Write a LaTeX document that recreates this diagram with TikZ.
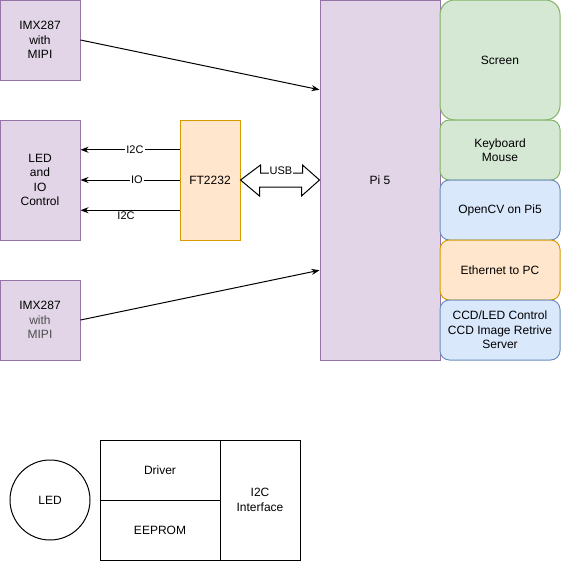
\documentclass[tikz,border=0pt]{standalone}
\usepackage{fontspec}
\setmainfont{Liberation Sans}
\usetikzlibrary{arrows.meta,calc}

\definecolor{purplefill}{HTML}{E1D5E7}
\definecolor{purpleline}{HTML}{9673A6}
\definecolor{orangefill}{HTML}{FFE6CC}
\definecolor{orangeline}{HTML}{D79B00}
\definecolor{greenfill}{HTML}{D5E8D4}
\definecolor{greenline}{HTML}{82B366}
\definecolor{bluefill}{HTML}{DAE8FC}
\definecolor{blueline}{HTML}{6C8EBF}
\definecolor{textgrey}{HTML}{4D4D4D}

\tikzset{
  base/.style={line width=0.75pt, inner sep=0pt, align=center, font=\fontsize{9}{10.8}\selectfont},
  box/.style={base, draw=purpleline, fill=purplefill},
  ftbox/.style={base, draw=orangeline, fill=orangefill},
  greenbox/.style={base, draw=greenline, fill=greenfill, minimum width=90pt, rounded corners=7pt},
  bluebox/.style={base, draw=blueline, fill=bluefill, minimum width=90pt, minimum height=45pt, rounded corners=7pt},
  orangebox/.style={base, draw=orangeline, fill=orangefill, minimum width=90pt, minimum height=45pt, rounded corners=7pt},
  plain/.style={base, draw=black},
  arr/.style={line width=0.75pt, -{Stealth[length=6pt,width=4.5pt]}},
  lbl/.style={fill=white, inner sep=0.8pt, font=\fontsize{8.25}{9}\selectfont}
}

\begin{document}
\begin{tikzpicture}[x=0.75pt, y=-0.75pt]
\useasboundingbox (0,0) rectangle (561,561);

% left side
\node[box, minimum width=60pt, minimum height=60pt] (imxa) at (40,40) {IMX287\\with\\MIPI};
\node[box, minimum width=60pt, minimum height=90pt] (ledio) at (40,180) {LED\\and\\IO\\Control};
\node[box, minimum width=60pt, minimum height=60pt] (imxb) at (40,320) {IMX287\\{\color{textgrey}with}\\{\color{textgrey}MIPI}};
\node[ftbox, minimum width=45pt, minimum height=90pt] (ft) at (210,180) {FT2232};

% Pi and its parts
\node[box, minimum width=90pt, minimum height=270pt] (pi) at (380,180) {Pi 5};
\node[greenbox, minimum height=90pt, rounded corners=11pt] (screen) at (500,60) {Screen};
\node[greenbox, minimum height=45pt] (keys) at (500,150) {Keyboard\\Mouse};
\node[bluebox] (cv) at (500,210) {OpenCV on Pi5};
\node[orangebox] (eth) at (500,270) {Ethernet to PC};
\node[bluebox] (ccd) at (500,330) {CCD/LED Control\\CCD Image Retrive\\Server};

% connections
\draw[arr] (imxa.east) -- ($(pi.north west)!.25!(pi.south west)$);
\draw[arr] (imxb.east) -- ($(pi.north west)!.75!(pi.south west)$);
\draw[arr] ($(ft.north west)!.25!(ft.south west)$) coordinate (fa) -- (fa -| ledio.east) node[lbl, pos=.45] {I2C};
\draw[arr] (ft.west) -- (ledio.east) node[lbl, pos=.43] {IO};
\draw[arr] ($(ft.north west)!.75!(ft.south west)$) coordinate (fc) -- (fc -| ledio.east) node[lbl, pos=.54, anchor=north, fill=none, inner sep=1pt] {I2C};

% usb
\draw[line width=0.75pt, fill=white] (ft.east) -- ++(20,-15) -- ++(0,8) -- ++(42,0) -- ++(0,-8) -- (pi.west)
  -- ++(-18,16) -- ++(0,-9) -- ++(-42,0) -- ++(0,9) -- cycle;
\node[lbl] (usb) at (281,171) {USB};

% legend
\node[plain, circle, minimum size=60pt] (led) at (50,500) {LED};
\node[plain, minimum width=90pt, minimum height=45pt] (drv) at (160,470) {Driver};
\node[plain, minimum width=90pt, minimum height=45pt] (eeprom) at (160,530) {EEPROM};
\node[plain, minimum width=60pt, minimum height=90pt] (i2c) at (260,500) {I2C\\Interface};
\end{tikzpicture}
\end{document}
